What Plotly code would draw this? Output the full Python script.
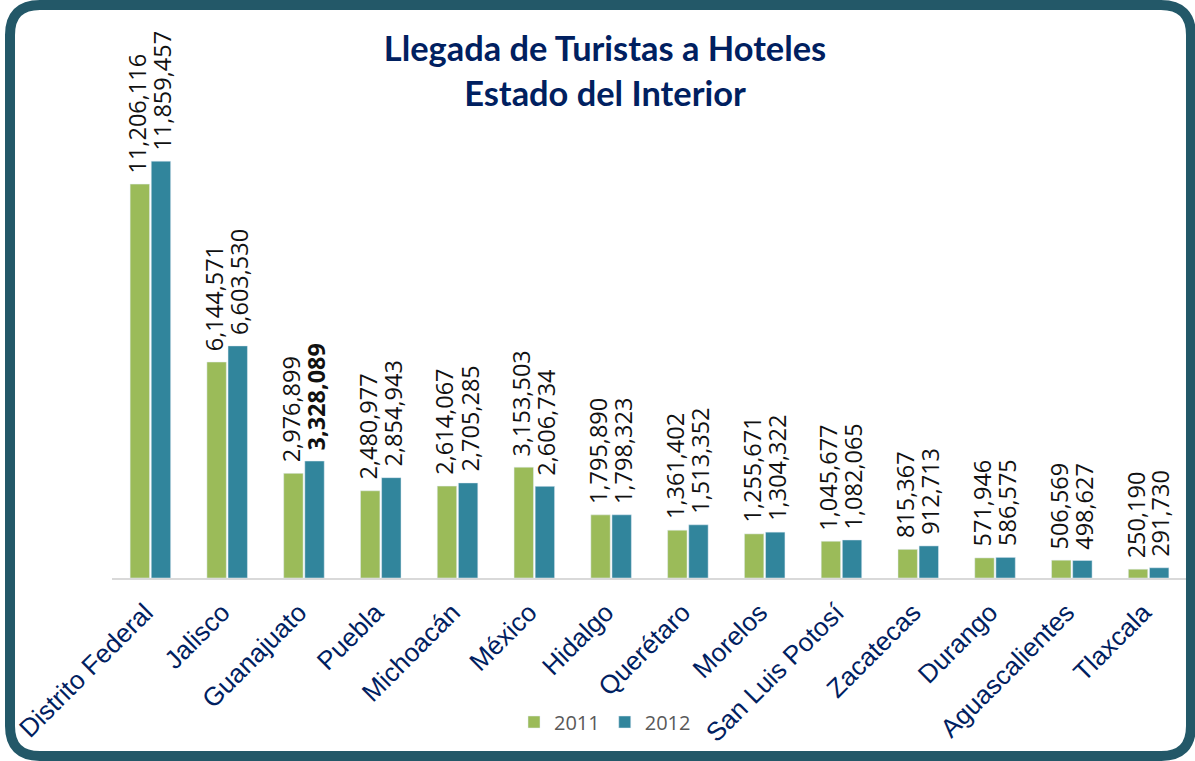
import plotly.graph_objects as go

estados = ["Distrito Federal", "Jalisco", "Guanajuato", "Puebla", "Michoacán", "México",
           "Hidalgo", "Querétaro", "Morelos", "San Luis Potosí", "Zacatecas", "Durango",
           "Aguascalientes", "Tlaxcala"]
llegadas_2011 = [11206116, 6144571, 2976899, 2480977, 2614067, 3153503, 1795890,
                 1361402, 1255671, 1045677, 815367, 571946, 506569, 250190]
llegadas_2012 = [11859457, 6603530, 3328089, 2854943, 2705285, 2606734, 1798323,
                 1513352, 1304322, 1082065, 912713, 586575, 498627, 291730]
bold_2012 = ["Guanajuato"]

W, H = 1195, 761
L, R, T, B = 112, 8, 30, 183
plot_w = W - L - R
plot_h = H - T - B
px_per_unit = 35.15 / 1e6
ymax = plot_h / px_per_unit


def fmt(v):
    return f"{v:,}"


text_2011 = [fmt(v) for v in llegadas_2011]
text_2012 = [f"<b>{fmt(v)}</b>" if e in bold_2012 else fmt(v) for e, v in zip(estados, llegadas_2012)]

label_font = dict(family="Open Sans, DejaVu Sans, sans-serif", size=23.5, color="#111111")

fig = go.Figure()
fig.add_trace(go.Bar(x=estados, y=llegadas_2011, name="2011", marker_color="#9BBB59",
                     cliponaxis=False))
fig.add_trace(go.Bar(x=estados, y=llegadas_2012, name="2012", marker_color="#31859C",
                     cliponaxis=False))

annotations = []
for series, texts, shift in ((llegadas_2011, text_2011, -13), (llegadas_2012, text_2012, 12)):
    for e, v, t in zip(estados, series, texts):
        annotations.append(dict(x=e, y=v, xref="x", yref="y", text=t, showarrow=False,
                                textangle=-90, xanchor="center", yanchor="bottom",
                                xshift=shift, yshift=9, font=label_font))


def px2paper(x, y):
    return (x - L) / plot_w, (H - B - y) / plot_h


# rounded border frame (pixel geometry converted to paper coords)
x0, y0, x1, y1, r = 10, 5, 1191, 756, 30
pts = [
    ("M", (x0 + r, y0)), ("L", (x1 - r, y0)), ("Q", (x1, y0), (x1, y0 + r)),
    ("L", (x1, y1 - r)), ("Q", (x1, y1), (x1 - r, y1)), ("L", (x0 + r, y1)),
    ("Q", (x0, y1), (x0, y1 - r)), ("L", (x0, y0 + r)), ("Q", (x0, y0), (x0 + r, y0)),
]
path = ""
for item in pts:
    cmd = item[0]
    coords = " ".join("{:.5f},{:.5f}".format(*px2paper(*p)) for p in item[1:])
    path += f"{cmd} {coords} "
path += "Z"

fig.update_layout(
    width=W, height=H,
    margin=dict(l=L, r=R, t=T, b=B, autoexpand=False),
    paper_bgcolor="white", plot_bgcolor="white",
    barmode="group", bargap=0.45, bargroupgap=0.08,
    title=dict(text="<b>Llegada de Turistas a Hoteles</b><br><b>Estado del Interior</b>",
               font=dict(family="Lato, Open Sans, sans-serif", size=34.4, color="#002060"),
               x=605 / W, xanchor="center", xref="container",
               y=1 - 61 / H, yanchor="top", yref="container"),
    xaxis=dict(tickangle=-45, tickfont=dict(family="Arial, Liberation Sans, sans-serif", size=26,
                                            color="#002060"),
               ticklabelstandoff=7, ticklabelshift=-5,
               showline=True, linecolor="#D9D9D9", linewidth=2, ticks="", showgrid=False,
               fixedrange=True),
    yaxis=dict(range=[0, ymax], visible=False, showgrid=False, fixedrange=True),
    legend=dict(orientation="h", x=(605 - L) / plot_w, xanchor="center",
                y=(H - B - 722) / plot_h, yanchor="middle",
                font=dict(family="Open Sans, sans-serif", size=20, color="#595959"),
                bgcolor="rgba(0,0,0,0)"),
    annotations=annotations,
    shapes=[dict(type="path", xref="paper", yref="paper", path=path,
                 line=dict(color="#235868", width=10), layer="above")],
    showlegend=True,
)

fig.write_html("out.html", config={"displayModeBar": False},
               post_script="document.body.style.margin='0';")
